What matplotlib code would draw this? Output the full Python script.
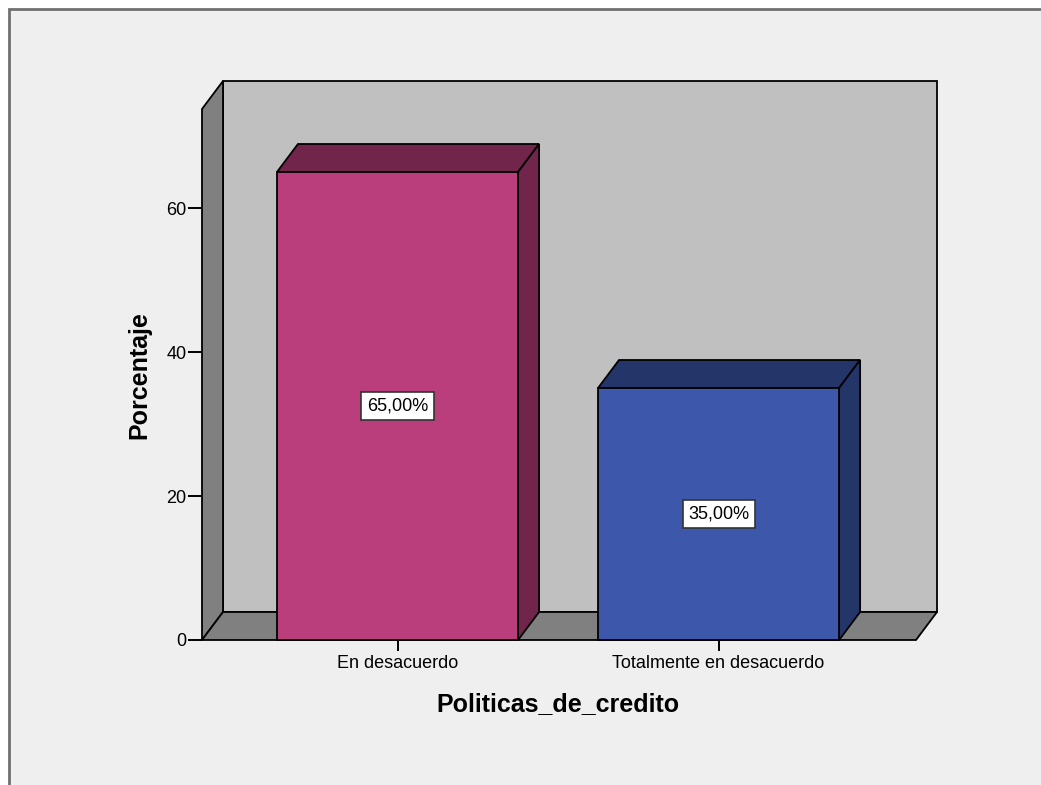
import matplotlib
matplotlib.use("Agg")
import matplotlib.pyplot as plt
from matplotlib.patches import Polygon, Rectangle

plt.rcParams['font.family'] = ['Liberation Sans', 'DejaVu Sans']

categories = ["En desacuerdo", "Totalmente en desacuerdo"]
percentages = [65.0, 35.0]
y_ticks = [0, 20, 40, 60]
x_title = "Politicas_de_credito"
y_title = "Porcentaje"

front_colors = ["#BA3E7B", "#3D57AA"]
shade_colors = ["#72254B", "#24356A"]

W, H = 1041, 785
fig = plt.figure(figsize=(W / 100, H / 100), dpi=100)
fig.patch.set_facecolor("white")

# grey chart panel with its frame
panel = Rectangle((9 / W, -0.05), 1.1, 1 - 9 / H + 0.05, transform=fig.transFigure,
                  facecolor="#EFEFEF", edgecolor="#707070", linewidth=2, zorder=-5)
fig.patches.append(panel)

ax = fig.add_axes([202 / W, 1 - 640 / H, 714 / W, 531 / H])
ax.set_zorder(1)
ax.set_facecolor("none")
xmin, xmax = -0.609, 1.615
ymin, ymax = 0, 73.75
ax.set_xlim(xmin, xmax)
ax.set_ylim(ymin, ymax)
for s in ax.spines.values():
    s.set_visible(False)

DX, DY = 21, 28  # depth offset in pixels


def back(x, y):
    p = ax.transData.transform((x, y)) + [DX, DY]
    return tuple(ax.transData.inverted().transform(p))


def poly(pts, fc, z):
    ax.add_patch(Polygon(pts, closed=True, facecolor=fc, edgecolor="black",
                         linewidth=1.3, clip_on=False, zorder=z, joinstyle="miter"))


# back wall, left wall and floor
poly([back(xmin, 0), back(xmax, 0), back(xmax, ymax), back(xmin, ymax)], "#C0C0C0", 1)
poly([(xmin, 0), back(xmin, 0), back(xmin, ymax), (xmin, ymax)], "#808080", 2)
poly([(xmin, 0), (xmax, 0), back(xmax, 0), back(xmin, 0)], "#808080", 2)

# 3D bars
bar_w = 0.751
for i, (v, fc, sc) in enumerate(zip(percentages, front_colors, shade_colors)):
    x0, x1 = i - bar_w / 2, i + bar_w / 2
    poly([(x0, v), (x1, v), back(x1, v), back(x0, v)], sc, 3)
    poly([(x1, 0), back(x1, 0), back(x1, v), (x1, v)], sc, 3)
    poly([(x0, 0), (x1, 0), (x1, v), (x0, v)], fc, 4)
    label = f"{v:.2f}%".replace(".", ",")
    ax.text(i, v / 2, label, ha="center", va="center", fontsize=13, zorder=6,
            bbox=dict(boxstyle="square,pad=0.3", facecolor="white",
                      edgecolor="#333333", linewidth=1.2))

ax.set_yticks(y_ticks)
ax.set_yticklabels([str(t) for t in y_ticks])
ax.set_xticks(range(len(categories)))
ax.set_xticklabels(categories)
ax.tick_params(axis="y", length=10, width=1.4, pad=1, labelsize=13, direction="out")
ax.tick_params(axis="x", length=8, width=1.4, pad=3, labelsize=13, direction="out")

fig.text(558 / W, 1 - 704 / H, x_title, ha="center", va="center",
         fontsize=18, fontweight="bold")
fig.text(139 / W, 1 - 375 / H, y_title, ha="center", va="center",
         fontsize=18, fontweight="bold", rotation=90)

fig.savefig("out.png", dpi=100)
